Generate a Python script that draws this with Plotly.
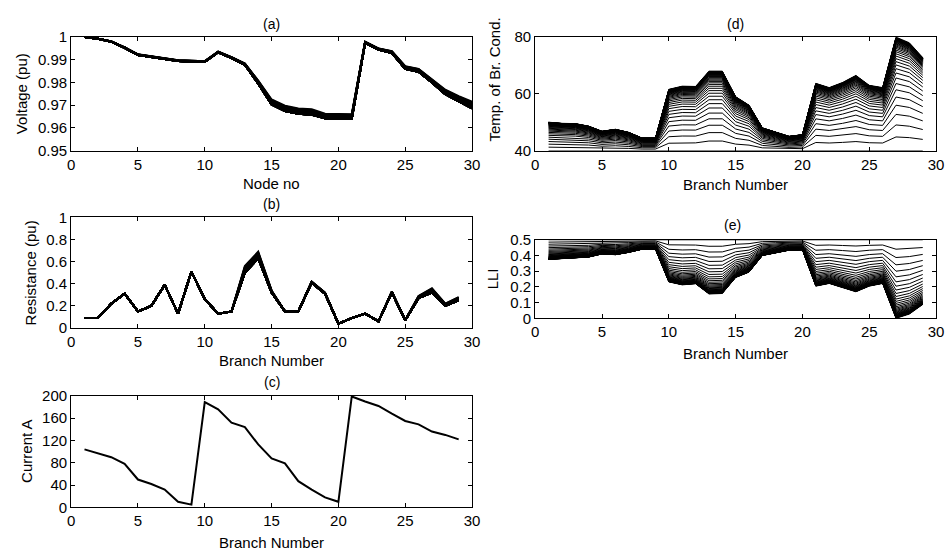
import plotly.graph_objects as go

# ---------------- data ----------------
nodes = list(range(1, 31))
branches = list(range(1, 30))

voltage_upper = [1.0, 0.9993, 0.9981, 0.9955, 0.9924, 0.9915, 0.9906, 0.9898, 0.9896, 0.9894,
                 0.9936, 0.9912, 0.9884, 0.9808, 0.9725, 0.9698, 0.9685, 0.9682, 0.9662, 0.9660,
                 0.9660, 0.9980, 0.9950, 0.9938, 0.9872, 0.9860, 0.9815, 0.9768, 0.9740, 0.9715]
voltage_lower = [1.0, 0.9993, 0.9980, 0.9953, 0.9921, 0.9913, 0.9903, 0.9895, 0.9893, 0.9891,
                 0.9933, 0.9908, 0.9878, 0.9795, 0.9703, 0.9674, 0.9662, 0.9658, 0.9642, 0.9640,
                 0.9640, 0.9975, 0.9945, 0.9930, 0.9860, 0.9847, 0.9800, 0.9748, 0.9718, 0.9686]

resistance_upper = [0.09, 0.09, 0.22, 0.31, 0.15, 0.20, 0.39, 0.13, 0.51, 0.26,
                    0.13, 0.15, 0.56, 0.69, 0.34, 0.15, 0.15, 0.42, 0.32, 0.04,
                    0.09, 0.13, 0.06, 0.33, 0.07, 0.29, 0.36, 0.22, 0.28]
resistance_lower = [0.09, 0.09, 0.22, 0.31, 0.15, 0.20, 0.39, 0.13, 0.51, 0.26,
                    0.13, 0.15, 0.50, 0.63, 0.32, 0.15, 0.15, 0.41, 0.31, 0.04,
                    0.09, 0.13, 0.06, 0.32, 0.07, 0.27, 0.32, 0.20, 0.25]

current = [104, 97, 90, 78, 50, 42, 32, 10, 5, 189,
           176, 152, 144, 113, 88, 79, 47, 32, 18, 10,
           199, 190, 182, 168, 155, 149, 136, 130, 122]

temp_ambient = 40
temp_max = [50, 49.6, 49.5, 48.6, 46.8, 47.5, 46.4, 44.4, 44.4, 61.6,
            62.7, 62.6, 68, 68, 59, 56, 48, 46.5, 45, 45.6,
            63.7, 62.2, 64, 66.5, 63, 62.2, 80, 78, 72.8]

lli_start = 0.5
lli_min = [0.375, 0.38, 0.385, 0.39, 0.41, 0.405, 0.42, 0.44, 0.44, 0.232,
           0.213, 0.22, 0.155, 0.158, 0.26, 0.294, 0.40, 0.418, 0.434, 0.436,
           0.205, 0.222, 0.197, 0.169, 0.205, 0.222, 0.0, 0.027, 0.088]

# fraction of the way from the start curve to the final curve, one per drawn step
level_fraction = [0, 0.12, 0.226, 0.319, 0.400, 0.472, 0.536, 0.591, 0.640, 0.684,
                  0.722, 0.755, 0.784, 0.810, 0.833, 0.853, 0.871, 0.886, 0.900, 0.912,
                  0.922, 0.932, 0.940, 0.947, 0.953, 0.959, 0.964, 0.968, 0.972, 0.975,
                  0.978, 0.981, 0.983, 0.985, 0.987, 0.989, 0.990, 0.991, 0.992, 0.993,
                  0.994, 1.0]

xticks = [0, 5, 10, 15, 20, 25, 30]
v_ticks = [0.95, 0.96, 0.97, 0.98, 0.99, 1.0]
v_ticktext = ["0.95", "0.96", "0.97", "0.98", "0.99", "1"]
r_ticks = [0, 0.2, 0.4, 0.6, 0.8, 1.0]
r_ticktext = ["0", "0.2", "0.4", "0.6", "0.8", "1"]
i_ticks = [0, 40, 80, 120, 160, 200]
t_ticks = [40, 60, 80]
l_ticks = [0, 0.1, 0.2, 0.3, 0.4, 0.5]
l_ticktext = ["0", "0.1", "0.2", "0.3", "0.4", "0.5"]

# ---------------- figure ----------------
W, H = 952, 560
FONT = "Arial, 'Liberation Sans', Helvetica, sans-serif"


def family(x, start, end):
    xs, ys = [], []
    for f in level_fraction:
        xs += list(x) + [None]
        ys += [s + f * (e - s) for s, e in zip(start, end)] + [None]
    return xs, ys


fig = go.Figure()

xa, ya = family(nodes, voltage_upper, voltage_lower)
fig.add_trace(go.Scatter(x=xa, y=ya, mode="lines", line=dict(color="black", width=2),
                         xaxis="x", yaxis="y", hoverinfo="skip"))
xb, yb = family(branches, resistance_upper, resistance_lower)
fig.add_trace(go.Scatter(x=xb, y=yb, mode="lines", line=dict(color="black", width=2),
                         xaxis="x2", yaxis="y2", hoverinfo="skip"))
fig.add_trace(go.Scatter(x=branches, y=current, mode="lines", line=dict(color="black", width=2),
                         xaxis="x3", yaxis="y3", hoverinfo="skip"))
xd, yd = family(branches, [temp_ambient] * len(branches), temp_max)
fig.add_trace(go.Scatter(x=xd, y=yd, mode="lines", line=dict(color="black", width=1),
                         xaxis="x4", yaxis="y4", hoverinfo="skip"))
xe, ye = family(branches, [lli_start] * len(branches), lli_min)
fig.add_trace(go.Scatter(x=xe, y=ye, mode="lines", line=dict(color="black", width=1),
                         xaxis="x5", yaxis="y5", hoverinfo="skip"))


def px(x):
    return x / W


def py(y):
    return 1 - y / H


def axis(dom, rng, anchor, tickvals, ticktext=None):
    d = dict(domain=dom, range=rng, anchor=anchor, showline=True, linecolor="black",
             linewidth=1, mirror="ticks", ticks="inside", ticklen=4, tickcolor="black",
             showgrid=False, zeroline=False, tickvals=tickvals,
             tickfont=dict(family=FONT, size=15, color="black"), fixedrange=True)
    if ticktext is not None:
        d["ticktext"] = ticktext
    return d


left_x = [px(68), px(474)]
right_x = [px(538), px(944)]
dom_a = [py(146), py(29)]
dom_b = [py(329), py(215)]
dom_c = [py(514), py(399)]
dom_d = [py(146), py(29)]
dom_e = [py(319), py(238)]

fig.update_layout(
    width=W, height=H, margin=dict(l=0, r=0, t=0, b=0),
    paper_bgcolor="white", plot_bgcolor="white", showlegend=False,
    font=dict(family=FONT, color="black"),
    xaxis=axis(left_x, [0, 30], "y", xticks),
    yaxis=axis(dom_a, [0.95, 1.0], "x", v_ticks, v_ticktext),
    xaxis2=axis(left_x, [0, 30], "y2", xticks),
    yaxis2=axis(dom_b, [0, 1], "x2", r_ticks, r_ticktext),
    xaxis3=axis(left_x, [0, 30], "y3", xticks),
    yaxis3=axis(dom_c, [0, 200], "x3", i_ticks),
    xaxis4=axis(right_x, [0, 30], "y4", xticks),
    yaxis4=axis(dom_d, [40, 80], "x4", t_ticks),
    xaxis5=axis(right_x, [0, 30], "y5", xticks),
    yaxis5=axis(dom_e, [0, 0.5], "x5", l_ticks, l_ticktext),
)

texts = [
    ("(a)", 271, 15, 0, 14), ("(b)", 271, 201, 0, 14), ("(c)", 271, 385, 0, 14),
    ("(d)", 741, 15, 0, 14), ("(e)", 738, 223, 0, 14),
    ("Node no", 271, 180, 0, 15), ("Branch Number", 271, 363, 0, 15),
    ("Branch Number", 271, 550, 0, 15), ("Branch Number", 741, 181, 0, 15),
    ("Branch Number", 741, 355, 0, 15),
    ("Voltage (pu)", 18, 87, -90, 15), ("Resistance (pu)", 27, 272, -90, 15),
    ("Current A", 22, 456, -90, 15), ("Temp. of Br. Cond.", 497, 73, -90, 15),
    ("LLI", 495, 278, -90, 15),
]
for t, x, y, ang, s in texts:
    fig.add_annotation(text=t, x=px(x), y=py(y), xref="paper", yref="paper",
                       showarrow=False, textangle=ang, xanchor="center", yanchor="middle",
                       font=dict(family=FONT, size=s, color="black"))

fig.write_html("out.html")
